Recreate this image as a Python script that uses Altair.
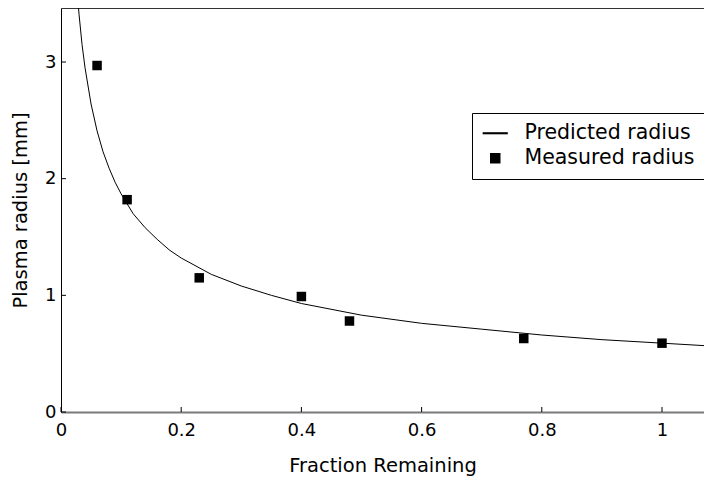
import altair as alt
import pandas as pd

# ---- data ----
curve_x = [0.025, 0.03, 0.035, 0.04, 0.05, 0.06, 0.07, 0.08, 0.09, 0.10, 0.12, 0.14,
           0.16, 0.18, 0.20, 0.25, 0.30, 0.35, 0.40, 0.50, 0.60, 0.70, 0.80, 0.90,
           1.00, 1.10]
curve_y = [3.73, 3.41, 3.15, 2.95, 2.64, 2.41, 2.23, 2.09, 1.97, 1.87, 1.70, 1.58,
           1.48, 1.39, 1.32, 1.18, 1.08, 1.00, 0.93, 0.83, 0.76, 0.71, 0.66, 0.62,
           0.59, 0.56]
meas_x = [0.06, 0.11, 0.23, 0.40, 0.48, 0.77, 1.00]
meas_y = [2.97, 1.82, 1.15, 0.99, 0.78, 0.63, 0.59]
series_names = ["Predicted radius", "Measured radius"]
x_ticks = [0, 0.2, 0.4, 0.6, 0.8, 1]
y_ticks = [0, 1, 2, 3]

W, H = 643, 404
XMAX = 1.0699
YMAX = 3.463
FONT = "DejaVu Sans"

curve_df = pd.DataFrame({"x": curve_x, "y": curve_y})
meas_df = pd.DataFrame({"x": meas_x, "y": meas_y, "series": series_names[1]})
xt_df = pd.DataFrame({"v": x_ticks})
yt_df = pd.DataFrame({"v": y_ticks})

xscale = alt.Scale(domain=[0, XMAX], nice=False, zero=False)
yscale = alt.Scale(domain=[0, YMAX], nice=False, zero=False)

line = alt.Chart(curve_df).mark_line(color="black", strokeWidth=1, clip=True).encode(
    x=alt.X("x:Q", scale=xscale, axis=alt.Axis(
        orient="bottom", values=x_ticks, format="~g", title="Fraction Remaining",
        ticks=False, grid=False, domainColor="#7a7a7a", domainWidth=2,
        labelFlush=False,
        labelFont=FONT, labelFontSize=18, labelColor="black", labelPadding=9,
        titleFont=FONT, titleFontSize=19.5, titleFontWeight="normal", titleColor="black",
        titlePadding=17)),
    y=alt.Y("y:Q", scale=yscale, axis=alt.Axis(
        orient="left", values=y_ticks, format="~g", title="Plasma radius [mm]",
        ticks=False, grid=False, domainColor="black", domainWidth=1,
        labelFlush=False,
        labelFont=FONT, labelFontSize=18, labelColor="black", labelPadding=5,
        titleFont=FONT, titleFontSize=19.5, titleFontWeight="normal", titleColor="black",
        titlePadding=14)),
)

bar_path = "M-2.4,-0.2L2.4,-0.2L2.4,0.2L-2.4,0.2Z"

points = alt.Chart(meas_df).mark_point(
    filled=True, color="black", size=90, opacity=1
).encode(
    x=alt.X("x:Q", scale=xscale, axis=alt.Axis(
        orient="top", labels=False, ticks=False, domain=True, domainColor="#333333",
        domainWidth=1, grid=False, title="")),
    y=alt.Y("y:Q", scale=yscale, axis=None),
    shape=alt.Shape("series:N",
                    scale=alt.Scale(domain=series_names, range=[bar_path, "square"]),
                    legend=alt.Legend(
                        orient="none", legendX=411, legendY=105, title=None,
                        strokeColor="black", fillColor="white", padding=10,
                        cornerRadius=0, labelFont=FONT, labelFontSize=20.5,
                        labelColor="black", labelLimit=400, rowPadding=4,
                        symbolOffset=3, labelOffset=19, symbolFillColor="black",
                        symbolStrokeWidth=0, symbolSize=110, symbolOpacity=1)),
)

xticks = alt.Chart(xt_df).mark_rule(color="black", strokeWidth=1).encode(
    x=alt.X("v:Q", scale=xscale, axis=None),
    y=alt.value(H),
    y2=alt.value(H - 5),
)

yticks = alt.Chart(yt_df).mark_rule(color="black", strokeWidth=1).encode(
    y=alt.Y("v:Q", scale=yscale, axis=None),
    x=alt.value(0),
    x2=alt.value(5),
)

chart = alt.layer(line, points, xticks, yticks).resolve_axis(
    x="independent", y="independent"
).properties(
    width=W, height=H,
    autosize=alt.AutoSizeParams(type="none"),
    padding={"left": 53, "top": 0, "right": 0, "bottom": 71},
).configure_view(stroke=None).configure(background="white")

chart.save("out.html", embed_options={"renderer": "svg", "actions": False})
